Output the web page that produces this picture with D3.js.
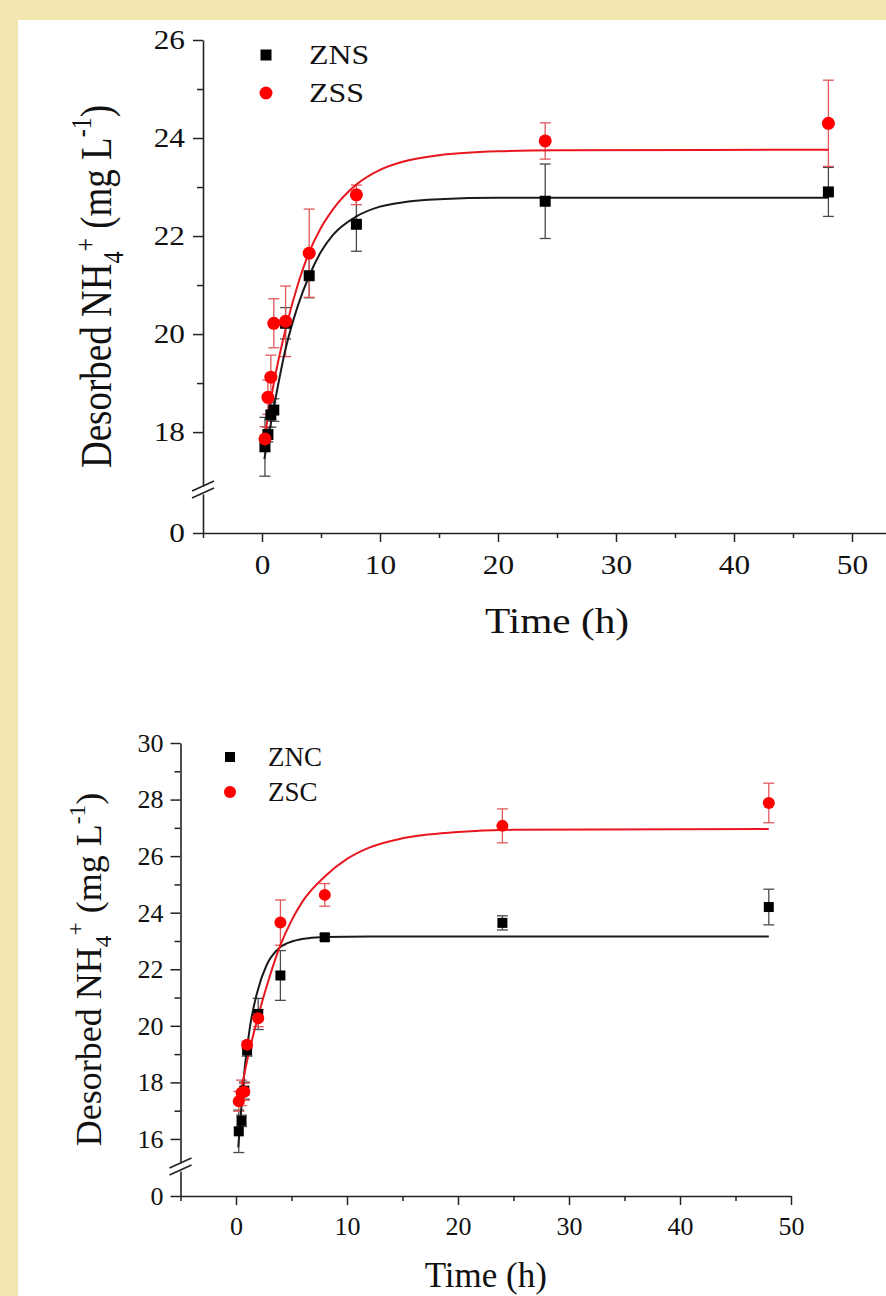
<!DOCTYPE html>
<html>
<head>
<meta charset="utf-8">
<script src="https://cdn.jsdelivr.net/npm/d3@7"></script>
<style>
  body { margin: 0; background: #f3e5ae; }
  svg { display: block; }
  text { font-family: "Liberation Serif", "Times New Roman", serif; fill: #111; }
</style>
</head>
<body>
<svg id="chart" width="886" height="1296"></svg>
<script>
// DATA: sampling times (h) shared by both panels
const timeH = [0.25, 0.5, 0.75, 1, 2, 4, 8, 24, 48];

// top panel: ZNS (black squares) and ZSS (red circles), mean and SD
const znsMean = [17.7, 17.95, 18.35, 18.45, 20.22, 21.19, 22.24, 22.71, 22.9];
const znsErr  = [0.6, 0.15, 0.25, 0.23, 0.32, 0.45, 0.55, 0.76, 0.5];
const zssMean = [17.86, 18.71, 19.12, 20.22, 20.26, 21.65, 22.84, 23.94, 24.3];
const zssErr  = [0.25, 0.35, 0.45, 0.5, 0.72, 0.9, 0.2, 0.37, 0.88];

// top panel fitted curves
const znsFitT = [0.2, 0.5, 1, 2, 3, 4, 5, 6, 8, 10, 12, 15, 20, 48];
const znsFitV = [17.45, 17.85, 18.5, 19.7, 20.55, 21.19, 21.68, 22.02, 22.4, 22.6, 22.69, 22.75, 22.78, 22.78];
const zssFitT = [0.15, 0.5, 1, 2, 3, 4, 5, 6, 8, 10, 12, 15, 20, 25, 48];
const zssFitV = [17.8, 18.3, 19.0, 20.1, 20.98, 21.67, 22.17, 22.54, 23.05, 23.35, 23.52, 23.65, 23.73, 23.75, 23.76];

// bottom panel: ZNC (black squares) and ZSC (red circles)
const zncMean = [16.27, 16.64, 17.71, 19.13, 20.42, 21.78, 23.13, 23.64, 24.2];
const zncErr  = [0.75, 0.2, 0.3, 0.2, 0.55, 0.88, 0.1, 0.25, 0.63];
const zscMean = [17.33, 17.63, 17.67, 19.33, 20.27, 23.65, 24.63, 27.07, 27.88];
const zscErr  = [0.35, 0.45, 0.3, 0.12, 0.3, 0.8, 0.4, 0.6, 0.7];

// bottom panel fitted curves
const zncFitT = [0.2, 0.42, 0.81, 1.26, 1.92, 2.76, 3.9, 5.17, 6.5, 8, 12, 48];
const zncFitV = [15.7, 16.8, 18.59, 19.97, 21.2, 22.15, 22.75, 23.0, 23.1, 23.14, 23.16, 23.16];
const zscFitT = [0.2, 0.5, 1, 2, 3, 4, 5, 6, 8, 10, 12, 15, 20, 25, 48];
const zscFitV = [17.15, 17.78, 18.76, 20.35, 21.7, 22.85, 23.72, 24.4, 25.28, 25.9, 26.3, 26.63, 26.85, 26.93, 26.96];

// tick values
const topYMajor = [18, 20, 22, 24, 26];
const topYMinor = [19, 21, 23, 25];
const topXMajor = [0, 10, 20, 30, 40, 50];
const topXMinor = [-5, 5, 15, 25, 35, 45, 55];
const botYMajor = [16, 18, 20, 22, 24, 26, 28, 30];
const botYMinor = [17, 19, 21, 23, 25, 27, 29];
const botXMajor = [0, 10, 20, 30, 40, 50];
const botXMinor = [-5, 5, 15, 25, 35, 45];

// SETUP
const svg = d3.select("#chart");

// white page on the beige frame
svg.append("rect")
    .attr("x", 18).attr("y", 20)
    .attr("width", 868).attr("height", 1276)
    .attr("fill", "#ffffff");

const BLACK = { marker: "#000000", line: "#1a1a1a", err: "#4a4a4a", shape: "square" };
const RED   = { marker: "#ff0000", line: "#e8161e", err: "#e0585c", shape: "circle" };

const panels = [
  {
    xDomain: [-5, 55], xRange: [203, 911],
    yDomain: [16.9, 26], yRange: [486, 40],
    zeroY: 533, lowTop: 494,
    yMajor: topYMajor, yMinor: topYMinor, xMajor: topXMajor, xMinor: topXMinor,
    sx: 1.18, tickFont: 26.5, yPad: 5.3, xPad: 13,
    legendFont: 27, legendX: 266, legendTextX: 309, legendY: [55, 93],
    xTitleFont: 35, xTitleY: 633,
    yTitleFont: 37, yTitleX: 111, plusRaise: 0.36,
    sq: 11, r: 6.5,
    series: [
      { name: "ZNS", mean: znsMean, err: znsErr, fitT: znsFitT, fitV: znsFitV, style: BLACK },
      { name: "ZSS", mean: zssMean, err: zssErr, fitT: zssFitT, fitV: zssFitV, style: RED }
    ]
  },
  {
    xDomain: [-5, 50], xRange: [180.5, 791],
    yDomain: [15.15, 30], yRange: [1163, 743],
    zeroY: 1196, lowTop: 1171,
    yMajor: botYMajor, yMinor: botYMinor, xMajor: botXMajor, xMinor: botXMinor,
    sx: 1, tickFont: 26, yPad: 7, xPad: 12,
    legendFont: 27, legendX: 230, legendTextX: 268, legendY: [757, 792],
    xTitleFont: 35, xTitleY: 1287,
    yTitleFont: 36, yTitleX: 101, plusRaise: 0.5,
    sq: 10, r: 6,
    series: [
      { name: "ZNC", mean: zncMean, err: zncErr, fitT: zncFitT, fitV: zncFitV, style: BLACK },
      { name: "ZSC", mean: zscMean, err: zscErr, fitT: zscFitT, fitV: zscFitV, style: RED }
    ]
  }
];

function styleAxis(sel, p) {
    sel.attr("font-family", null).attr("font-size", p.tickFont);
    sel.select(".domain").attr("stroke", "#222").attr("stroke-width", 1.6);
    sel.selectAll(".tick line").attr("stroke", "#222").attr("stroke-width", 1.5);
    sel.selectAll(".tick text").attr("fill", "#111")
        .attr("transform", `scale(${p.sx},1)`);
}

function drawMarker(g, shape, cx, cy, p, color) {
    if (shape === "square") {
        g.append("rect")
            .attr("x", cx - p.sq / 2).attr("y", cy - p.sq / 2)
            .attr("width", p.sq).attr("height", p.sq)
            .attr("fill", color);
    } else {
        g.append("circle")
            .attr("cx", cx).attr("cy", cy).attr("r", p.r)
            .attr("fill", color);
    }
}

panels.forEach(p => {
    const g = svg.append("g");

    const x = d3.scaleLinear().domain(p.xDomain).range(p.xRange);
    const y = d3.scaleLinear().domain(p.yDomain).range(p.yRange);
    // short lower piece of the broken axis, only carries the 0
    const yLow = d3.scaleLinear().domain([0, 1]).range([p.zeroY, p.lowTop]);
    const axisX = p.xRange[0];

    // X AXIS (major + minor)
    const xMaj = g.append("g")
        .attr("transform", `translate(0,${p.zeroY})`)
        .call(d3.axisBottom(x).tickValues(p.xMajor).tickSize(9)
            .tickSizeOuter(0).tickPadding(p.xPad).tickFormat(d3.format("d")));
    styleAxis(xMaj, p);
    const xMin = g.append("g")
        .attr("transform", `translate(0,${p.zeroY})`)
        .call(d3.axisBottom(x).tickValues(p.xMinor).tickSize(5).tickFormat(""));
    xMin.select(".domain").remove();
    styleAxis(xMin, p);

    // Y AXIS upper piece
    const yMaj = g.append("g")
        .attr("transform", `translate(${axisX},0)`)
        .call(d3.axisLeft(y).tickValues(p.yMajor).tickSize(10)
            .tickSizeOuter(0).tickPadding(p.yPad).tickFormat(d3.format("d")));
    styleAxis(yMaj, p);
    const yMin = g.append("g")
        .attr("transform", `translate(${axisX},0)`)
        .call(d3.axisLeft(y).tickValues(p.yMinor).tickSize(6).tickFormat(""));
    yMin.select(".domain").remove();
    styleAxis(yMin, p);

    // Y AXIS lower piece with 0
    const yZero = g.append("g")
        .attr("transform", `translate(${axisX},0)`)
        .call(d3.axisLeft(yLow).tickValues([0]).tickSize(10)
            .tickSizeOuter(0).tickPadding(p.yPad).tickFormat(d3.format("d")));
    styleAxis(yZero, p);

    // break marks
    const bTop = p.yRange[0], bBot = p.lowTop - 1;
    [bTop, bBot].forEach(by => {
        g.append("line")
            .attr("x1", axisX - 11).attr("y1", by + 5)
            .attr("x2", axisX + 11).attr("y2", by - 5)
            .attr("stroke", "#222").attr("stroke-width", 1.5);
    });

    // ERROR BARS
    p.series.forEach(s => {
        const eg = g.append("g")
            .attr("stroke", s.style.err).attr("stroke-width", 1.3);
        timeH.forEach((t, i) => {
            const cx = x(t);
            const y1 = y(s.mean[i] + s.err[i]), y2 = y(s.mean[i] - s.err[i]);
            eg.append("line").attr("x1", cx).attr("x2", cx).attr("y1", y1).attr("y2", y2);
            eg.append("line").attr("x1", cx - 5.5).attr("x2", cx + 5.5).attr("y1", y1).attr("y2", y1);
            eg.append("line").attr("x1", cx - 5.5).attr("x2", cx + 5.5).attr("y1", y2).attr("y2", y2);
        });
    });

    // FIT CURVES
    const line = d3.line()
        .x(d => x(d[0]))
        .y(d => y(d[1]))
        .curve(d3.curveMonotoneX);
    p.series.forEach(s => {
        g.append("path")
            .datum(d3.zip(s.fitT, s.fitV))
            .attr("d", line)
            .attr("fill", "none")
            .attr("stroke", s.style.line)
            .attr("stroke-width", 2);
    });

    // MARKERS
    p.series.forEach(s => {
        const mg = g.append("g");
        timeH.forEach((t, i) => drawMarker(mg, s.style.shape, x(t), y(s.mean[i]), p, s.style.marker));
    });

    // LEGEND
    p.series.forEach((s, i) => {
        drawMarker(g, s.style.shape, p.legendX, p.legendY[i], p, s.style.marker);
        g.append("text")
            .attr("transform", `translate(${p.legendTextX},${p.legendY[i] + p.legendFont * 0.33}) scale(${p.sx},1)`)
            .attr("font-size", p.legendFont)
            .text(s.name);
    });

    // AXIS TITLES
    const xCenter = (p.xRange[0] + p.xRange[1]) / 2;
    g.append("text")
        .attr("text-anchor", "middle")
        .attr("transform", `translate(${xCenter},${p.xTitleY}) scale(${p.sx},1)`)
        .attr("font-size", p.xTitleFont)
        .text("Time (h)");

    const fs = p.yTitleFont;
    const yCenter = (p.yRange[1] + p.zeroY) / 2;
    const yt = g.append("text")
        .attr("text-anchor", "middle")
        .attr("transform", `translate(${p.yTitleX},${yCenter}) scale(${p.sx},1) rotate(-90)`)
        .attr("font-size", fs);
    yt.append("tspan").text("Desorbed NH");
    yt.append("tspan").attr("font-size", fs * 0.65).attr("dy", fs * 0.28).text("4");
    yt.append("tspan").attr("font-size", fs * 0.65).attr("dy", -fs * (0.28 + p.plusRaise)).text("+");
    yt.append("tspan").attr("dy", fs * p.plusRaise).text(" (mg L");
    yt.append("tspan").attr("font-size", fs * 0.65).attr("dy", -fs * 0.45).text("-1");
    yt.append("tspan").attr("dy", fs * 0.45).text(")");
});
</script>
</body>
</html>
